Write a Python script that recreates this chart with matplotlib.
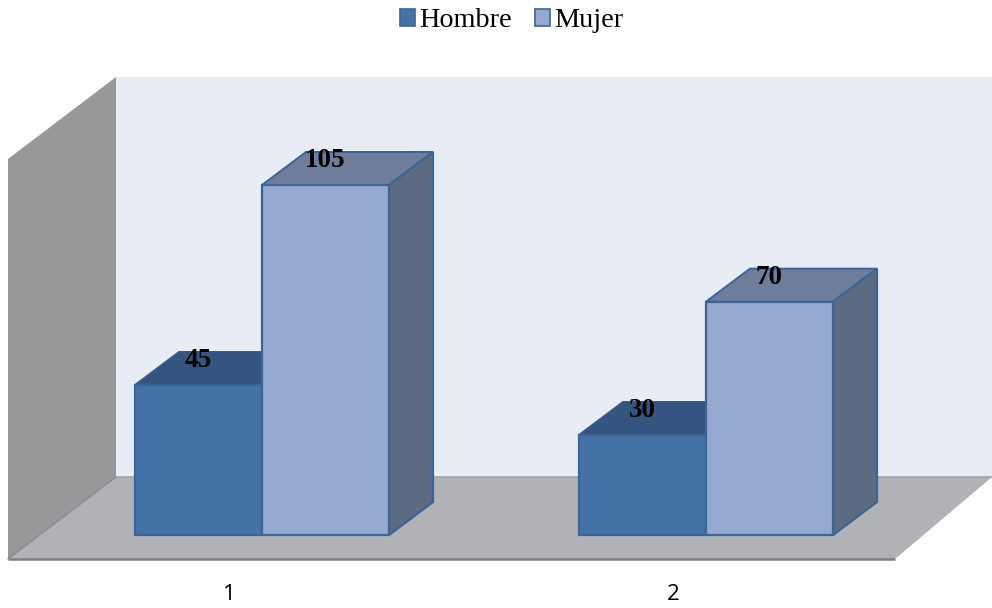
import matplotlib
matplotlib.use("Agg")
import matplotlib.pyplot as plt
from matplotlib.patches import Polygon, Patch

categories = ["1", "2"]
hombre = [45, 30]
mujer = [105, 70]
series_names = ["Hombre", "Mujer"]

# Value axis scale and 3D projection parameters, in data units
AXIS_MAX = 120
PX_X = 444.0   # pixels per category
PX_Y = 10 / 3  # pixels per value unit
BAR_W = 127 / PX_X
DEPTH_X, DEPTH_Y = 44 / PX_X, 33 / PX_Y
FLOOR_FRONT_Y = -24 / PX_Y
FLOOR_BACK_Y = 58 / PX_Y
WALL_LEFT = 1 - 254 / PX_X
WALL_BACK_LEFT = 1 - 146 / PX_X
FLOOR_RIGHT_FRONT = 1 + 633 / PX_X

fig = plt.figure(figsize=(9.92, 6.08), dpi=100)
ax = fig.add_axes([0, 0, 1, 1])
ax.set_xlim(1 - 262 / PX_X, 1 + 730 / PX_X)
ax.set_ylim(-73 / PX_Y, 535 / PX_Y)
ax.axis("off")


def poly(points, face, edge="none", lw=0.0, z=1):
    ax.add_patch(Polygon(points, closed=True, facecolor=face, edgecolor=edge,
                         linewidth=lw, zorder=z, joinstyle="miter"))


def box(x0, value, front, top, side, top_edge, z):
    """Draw one projected column whose front face starts at x0."""
    x1 = x0 + BAR_W
    edge = "#3b6594"
    poly([(x0, value), (x0 + DEPTH_X, value + DEPTH_Y),
          (x1 + DEPTH_X, value + DEPTH_Y), (x1, value)], top, top_edge, 1.4, z)
    poly([(x1, 0), (x1 + DEPTH_X, DEPTH_Y),
          (x1 + DEPTH_X, value + DEPTH_Y), (x1, value)], side, edge, 1.6, z)
    poly([(x0, 0), (x1, 0), (x1, value), (x0, value)], front, edge, 1.6, z + 0.1)


# Chart walls and floor
wall_top_back = FLOOR_BACK_Y + AXIS_MAX
wall_top_front = FLOOR_FRONT_Y + AXIS_MAX
poly([(WALL_BACK_LEFT, FLOOR_BACK_Y), (ax.get_xlim()[1], FLOOR_BACK_Y),
      (ax.get_xlim()[1], wall_top_back), (WALL_BACK_LEFT, wall_top_back)], "#e8ecf5")
poly([(WALL_LEFT, FLOOR_FRONT_Y), (WALL_BACK_LEFT, FLOOR_BACK_Y),
      (WALL_BACK_LEFT, wall_top_back), (WALL_LEFT, wall_top_front)], "#98989b")
poly([(WALL_LEFT, FLOOR_FRONT_Y), (FLOOR_RIGHT_FRONT, FLOOR_FRONT_Y),
      (ax.get_xlim()[1], FLOOR_BACK_Y), (WALL_BACK_LEFT, FLOOR_BACK_Y)], "#b0b2b6", z=1.5)
ax.plot([WALL_LEFT, FLOOR_RIGHT_FRONT], [FLOOR_FRONT_Y, FLOOR_FRONT_Y],
        color="#7f8082", lw=1.8, zorder=2, solid_capstyle="butt")
ax.plot([WALL_BACK_LEFT, ax.get_xlim()[1]], [FLOOR_BACK_Y, FLOOR_BACK_Y],
        color="#a2a3a6", lw=1.2, zorder=2)
ax.plot([WALL_LEFT, WALL_BACK_LEFT], [FLOOR_FRONT_Y, FLOOR_BACK_Y],
        color="#8c8c8f", lw=1.0, zorder=2)

# Columns: each pair meets at the category position
for i, cat in enumerate(categories):
    pos = i + 1
    box(pos - BAR_W, hombre[i], "#4471a6", "#34557f", "#34557f", "#37598a", 3)
    box(pos, mujer[i], "#95a8d0", "#6f7d9c", "#5d6b82", "#3b6594", 4)
    for x, v in ((pos - BAR_W / 2, hombre[i]), (pos + BAR_W / 2, mujer[i])):
        ax.text(x, v + 24.5 / PX_Y, str(v), ha="center", va="center", zorder=6,
                family="Liberation Serif", weight="bold", fontsize=19.5, color="black")
    ax.text(pos - 33 / PX_X, -60 / PX_Y, cat, ha="center", va="center",
            family="Open Sans", fontsize=16, color="black")

handles = [Patch(facecolor="#4471a6", edgecolor="#3b6594", lw=1.2),
           Patch(facecolor="#95a8d0", edgecolor="#3b6594", lw=1.2)]
ax.legend(handles, series_names, loc="upper center", bbox_to_anchor=(0.5155, 1.028),
          ncol=2, frameon=False, handlelength=0.53, handleheight=0.53,
          handletextpad=0.15, columnspacing=0.82,
          prop={"family": "Liberation Serif", "size": 20.3})

fig.savefig("out.png", dpi=100)
